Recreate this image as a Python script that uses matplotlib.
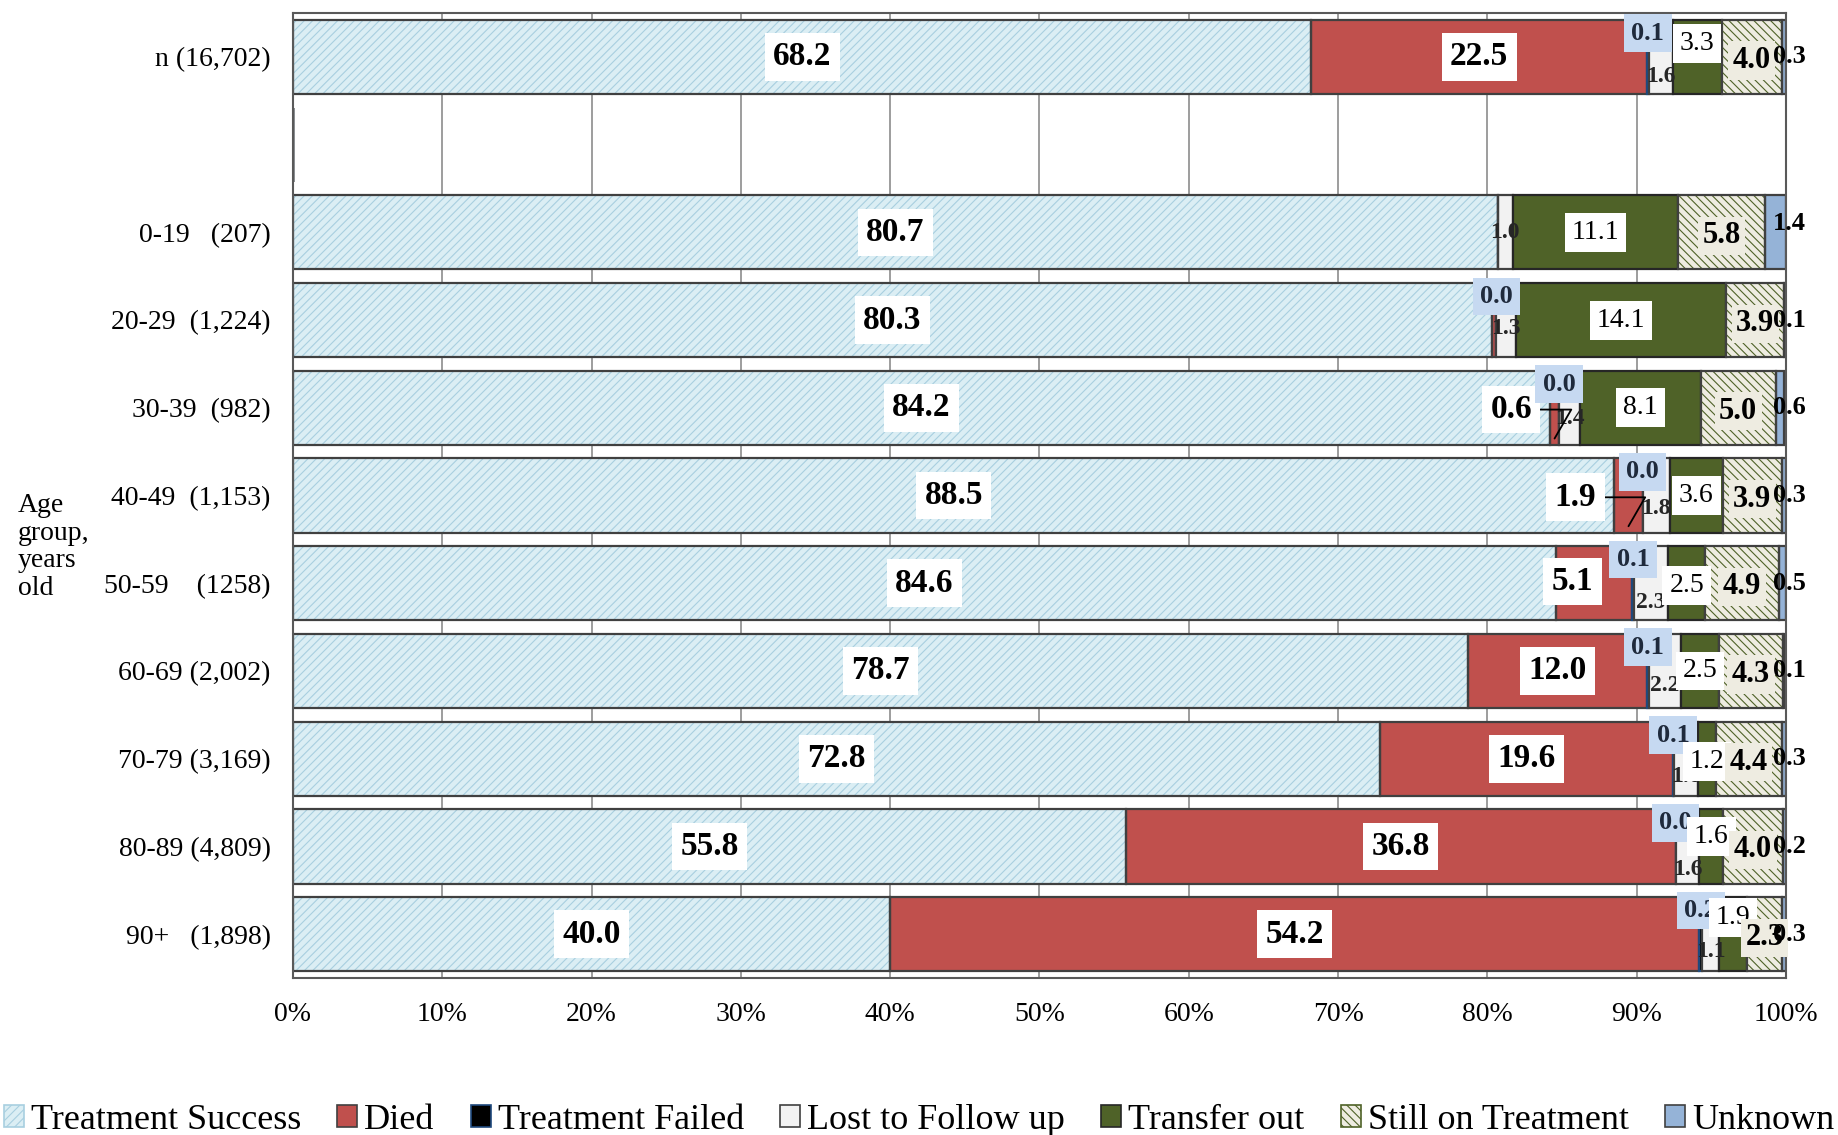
import numpy as np
import matplotlib.pyplot as plt
from matplotlib.patches import Patch

plt.rcParams['font.family'] = ['Liberation Serif', 'DejaVu Serif']
plt.rcParams['hatch.linewidth'] = 0.8

# rows from top to bottom (blank spacer row after the total)
rows = ["n (16,702)", "", "0-19   (207)", "20-29  (1,224)", "30-39  (982)",
        "40-49  (1,153)", "50-59    (1258)", "60-69 (2,002)", "70-79 (3,169)",
        "80-89 (4,809)", "90+   (1,898)"]

nan = np.nan
success = [68.2, nan, 80.7, 80.3, 84.2, 88.5, 84.6, 78.7, 72.8, 55.8, 40.0]
died = [22.5, nan, nan, 0.3, 0.6, 1.9, 5.1, 12.0, 19.6, 36.8, 54.2]
failed = [0.1, nan, nan, 0.0, 0.0, 0.0, 0.1, 0.1, 0.1, 0.0, 0.2]
lost = [1.6, nan, 1.0, 1.3, 1.4, 1.8, 2.3, 2.2, 1.6, 1.6, 1.1]
transfer = [3.3, nan, 11.1, 14.1, 8.1, 3.6, 2.5, 2.5, 1.2, 1.6, 1.9]
still = [4.0, nan, 5.8, 3.9, 5.0, 3.9, 4.9, 4.3, 4.4, 4.0, 2.3]
unknown = [0.3, nan, 1.4, 0.1, 0.6, 0.3, 0.5, 0.1, 0.3, 0.2, 0.3]

names = ["Treatment Success", "Died", "Treatment Failed", "Lost to Follow up",
         "Transfer out", "Still on Treatment", "Unknown"]
series = [success, died, failed, lost, transfer, still, unknown]

# label nudges (y, in row units) for the small labels
failed_dy = -0.27
lost_dy = [0.22, 0, 0.0, 0.1, 0.12, 0.15, 0.22, 0.16, 0.2, 0.26, 0.2]
transfer_dy = [-0.15, 0, 0, 0, 0, 0, 0.03, 0, 0.03, -0.11, -0.19]

face = ['#dbeef4', '#c0504d', '#000000', '#f2f2f2', '#4f6228', '#eeece1', '#95b3d7']
edge = ['#404040', '#404040', '#1f497d', '#404040', '#262626', '#404040', '#404040']
hatch = ['////', None, None, None, None, '\\\\\\\\', None]
hatch_col = ['#a8cfe0', None, None, None, None, '#4f6228', None]

fig = plt.figure(figsize=(18.38, 11.35), dpi=100)
ax = fig.add_axes([0.1594, 0.1383, 0.8123, 0.8502])

y = np.arange(len(rows))
h = 0.845
left = np.zeros(len(rows))
starts = []
for vals, fc, ec, ht, hc, name in zip(series, face, edge, hatch, hatch_col, names):
    v = np.nan_to_num(np.array(vals, dtype=float))
    starts.append(left.copy())
    if ht:
        ax.barh(y, v, h, left=left, color=fc, edgecolor=hc, hatch=ht,
                linewidth=0, zorder=2)
        ax.barh(y, v, h, left=left, fill=False, edgecolor=ec, linewidth=1.6, zorder=2.5)
    else:
        ax.barh(y, v, h, left=left, color=fc, edgecolor=ec, linewidth=1.6, zorder=2)
    left = left + v

handles = []
for fc, ec, ht, hc, name in zip(face, edge, hatch, hatch_col, names):
    handles.append(Patch(facecolor=fc, edgecolor=ec if not ht else hc,
                         hatch=ht, linewidth=1.2, label=name))

white_box = dict(boxstyle='square,pad=0.25', fc='white', ec='none')
blue_box = dict(boxstyle='square,pad=0.28', fc='#c6d9f1', ec='none')
beige_box = dict(boxstyle='square,pad=0.15', fc='#eeece1', ec='none')

for i in range(len(rows)):
    if np.isnan(success[i]):
        continue
    s = [st[i] for st in starts]
    # treatment success
    ax.text(s[0] + success[i] / 2, y[i], f"{success[i]:.1f}", ha='center', va='center',
            fontsize=24, fontweight='bold', bbox=white_box, zorder=5)
    # died
    d = died[i]
    if not np.isnan(d) and d >= 0.5:
        if d >= 10:
            ax.text(s[1] + d / 2, y[i], f"{d:.1f}", ha='center', va='center',
                    fontsize=24, fontweight='bold', bbox=white_box, zorder=5)
        elif d >= 5:
            ax.text(s[1] + 1.1, y[i] - 0.02, f"{d:.1f}", ha='center', va='center',
                    fontsize=24, fontweight='bold', bbox=white_box, zorder=5)
        else:
            ax.annotate(f"{d:.1f}", xy=(s[1] + d / 2, y[i] + 0.35),
                        xytext=(s[1] - 2.6, y[i] + 0.02), ha='center', va='center',
                        fontsize=24, fontweight='bold', bbox=white_box, zorder=5,
                        arrowprops=dict(arrowstyle='-', color='black', lw=1.3,
                                        shrinkA=0, shrinkB=0,
                                        connectionstyle='angle,angleA=0,angleB=60,rad=0'))
    # treatment failed
    f = failed[i]
    if not np.isnan(f):
        ax.text(s[2] + f / 2, y[i] + failed_dy, f"{f:.1f}", ha='center', va='center',
                fontsize=19, fontweight='bold', color='#1f2a3c', bbox=blue_box, zorder=6)
    # lost to follow up
    ax.text(s[3] + lost[i] / 2, y[i] + lost_dy[i], f"{lost[i]:.1f}", ha='center',
            va='center', fontsize=17, fontweight='bold', color='#262626', zorder=4)
    # transfer out (drawn over the failed labels, as in the source)
    ax.text(s[4] + transfer[i] / 2, y[i] + transfer_dy[i], f"{transfer[i]:.1f}",
            ha='center', va='center', fontsize=20, bbox=white_box, zorder=7)
    # still on treatment
    ax.text(s[5] + still[i] / 2, y[i] + 0.04, f"{still[i]:.1f}", ha='center',
            va='center', fontsize=22, fontweight='bold', bbox=beige_box, zorder=7)
    # unknown
    ax.text(100.25, y[i] - (0.1 if i == 2 else 0), f"{unknown[i]:.1f}", ha='center',
            va='center', fontsize=19, fontweight='bold', zorder=8, clip_on=False)

ax.set_xlim(0, 100)
ax.set_ylim(len(rows) - 0.5, -0.5)
ax.set_xticks(np.arange(0, 101, 10))
ax.set_xticklabels([f"{t}%" for t in range(0, 101, 10)], fontsize=20)
ax.set_yticks(y)
ax.set_yticklabels(rows, fontsize=20)
ax.tick_params(axis='both', length=0)
ax.tick_params(axis='x', pad=17)
ax.tick_params(axis='y', pad=16)
ax.grid(axis='x', color='#8c8c8c', linewidth=1.2, zorder=0)
ax.set_axisbelow(True)
for sp in ax.spines.values():
    sp.set_color('#595959')
    sp.set_linewidth(1.5)

fig.text(0.0098, 1 - 547 / 1135, "Age\ngroup,\nyears\nold", fontsize=20,
         ha='left', va='center', linespacing=1.15)

fig.legend(handles=handles, loc='center', bbox_to_anchor=(0.5, 0.013), ncol=7,
           frameon=False, fontsize=26, handlelength=0.55, handleheight=0.55,
           handletextpad=0.2, columnspacing=1.0, borderaxespad=0)

fig.savefig('out.png', dpi=100)
